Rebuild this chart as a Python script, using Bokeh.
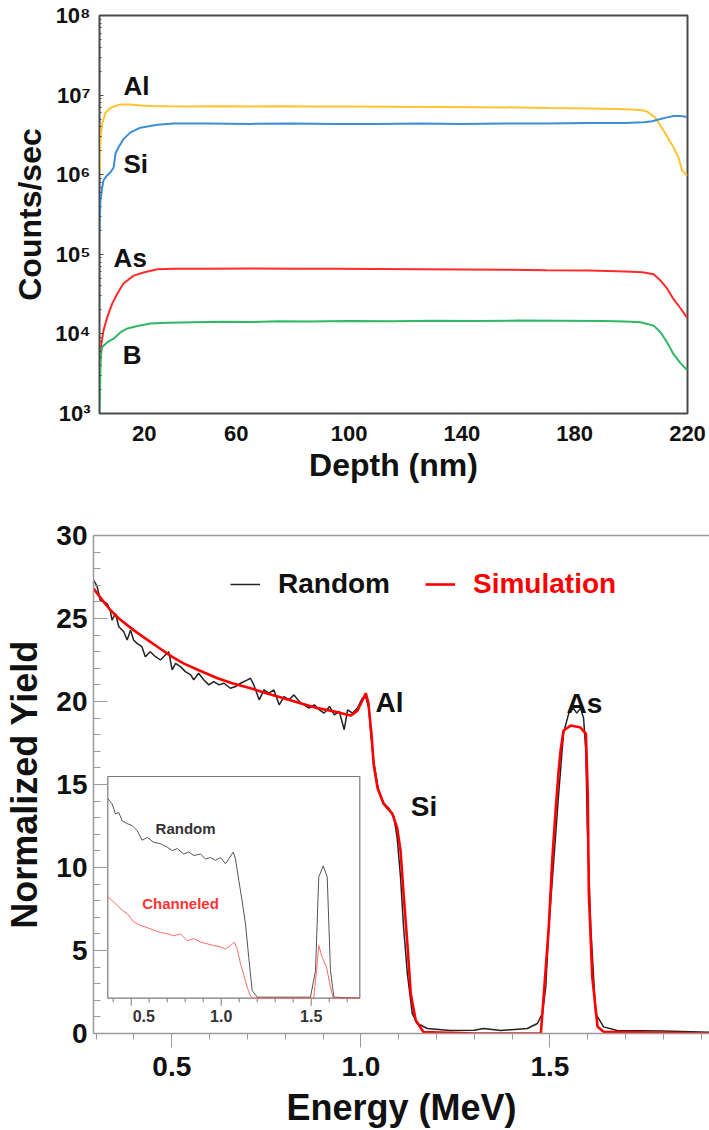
from bokeh.plotting import figure
from bokeh.models import (FixedTicker, LinearAxis, Range1d, Legend, LegendItem,
                          PrintfTickFormatter)
from bokeh.layouts import column
from bokeh.core.properties import value
from bokeh.embed import file_html
from bokeh.resources import INLINE

FONT = "Liberation Sans"

# ---------------- Top panel data (SIMS depth profile) ----------------
al_depth = [11.5, 11.85, 12.46, 13.6, 15.4, 17.0, 19.0, 22.5, 26.0, 30.0, 35.6, 45, 55, 65, 75, 85,
            100, 115, 130, 145, 160, 171, 185, 195, 200, 204, 205.7, 208.6, 211.5, 214.6, 216.8,
            218.1, 219.6, 220.0]
al_counts = [1.0e6, 2.7e6, 4.4e6, 6.0e6, 6.9e6, 7.3e6, 7.6e6, 7.6e6, 7.4e6, 7.3e6, 7.25e6, 7.2e6,
             7.25e6, 7.2e6, 7.25e6, 7.2e6, 7.2e6, 7.15e6, 7.1e6, 7.05e6, 7.0e6, 6.9e6, 6.8e6,
             6.7e6, 6.6e6, 6.45e6, 6.2e6, 5.2e6, 3.6e6, 2.35e6, 1.65e6, 1.12e6, 1.0e6, 1.0e6]

si_depth = [11.5, 11.85, 12.46, 12.9, 14.2, 15.4, 16.5, 17.2, 18.2, 20.0, 22.5, 26.0, 32.0, 37.7,
            50, 65, 80, 95, 110, 125, 140, 155, 170, 185, 198, 204.4, 207.5, 210.4, 212.8, 215.0,
            217.5, 220.0]
si_counts = [2.0e5, 4.8e5, 6.9e5, 8.5e5, 9.8e5, 1.07e6, 1.23e6, 1.86e6, 2.2e6, 2.8e6, 3.4e6,
             3.9e6, 4.25e6, 4.4e6, 4.4e6, 4.35e6, 4.4e6, 4.35e6, 4.35e6, 4.4e6, 4.35e6, 4.4e6,
             4.4e6, 4.45e6, 4.45e6, 4.55e6, 4.7e6, 5.0e6, 5.25e6, 5.45e6, 5.45e6, 5.3e6]

as_depth = [11.5, 11.85, 12.2, 12.9, 14.2, 16.0, 17.8, 20.0, 23.6, 27.1, 32.0, 37.7, 50, 65, 80,
            95, 110, 125, 140, 155, 170, 185, 198, 204, 208.0, 210.4, 212.8, 215.0, 217.5, 219.6,
            220.0]
as_counts = [2.4e3, 4.7e3, 7.6e3, 1.1e4, 1.6e4, 2.4e4, 3.2e4, 4.3e4, 5.4e4, 5.9e4, 6.5e4, 6.6e4,
             6.6e4, 6.65e4, 6.6e4, 6.6e4, 6.55e4, 6.5e4, 6.45e4, 6.4e4, 6.3e4, 6.25e4, 6.1e4,
             5.95e4, 5.6e4, 4.7e4, 3.7e4, 2.75e4, 2.1e4, 1.65e4, 1.6e4]

b_depth = [11.5, 11.75, 11.85, 12.4, 14.2, 16.5, 19.0, 21.4, 25.0, 29.6, 35.6, 45, 55, 65, 75,
           85, 100, 115, 130, 145, 160, 175, 190, 198, 203.3, 208.0, 210.4, 212.8, 215.0, 217.5,
           219.6, 220.0]
b_counts = [1.0e3, 2.4e3, 4.7e3, 6.8e3, 7.8e3, 8.7e3, 1.05e4, 1.17e4, 1.26e4, 1.35e4, 1.38e4,
            1.4e4, 1.42e4, 1.41e4, 1.44e4, 1.43e4, 1.45e4, 1.44e4, 1.46e4, 1.45e4, 1.47e4, 1.46e4,
            1.45e4, 1.43e4, 1.4e4, 1.27e4, 1.05e4, 7.8e3, 5.6e3, 4.3e3, 3.6e3, 3.5e3]

top_labels = ["Al", "Si", "As", "B"]
top_label_depth = [20.0, 20.0, 16.5, 19.7]
top_label_counts = [1.32e7, 1.38e6, 8.9e4, 5.5e3]

depth_ticks = [27.4, 60, 100, 140, 180, 220]
depth_tick_labels = ["20", "60", "100", "140", "180", "220"]
count_ticks = [1e3, 1e4, 1e5, 1e6, 1e7, 1e8]
count_tick_labels = ["10³", "10⁴", "10⁵", "10⁶", "10⁷", "10⁸"]

# ---------------- Bottom panel data (RBS) ----------------
rand_E = [0.293, 0.302, 0.311, 0.320, 0.329, 0.337, 0.342, 0.351, 0.360, 0.373, 0.382, 0.391,
          0.399, 0.408, 0.421, 0.430, 0.443, 0.457, 0.470, 0.483, 0.492, 0.501, 0.510, 0.523,
          0.536, 0.550, 0.558, 0.571, 0.585, 0.598, 0.611, 0.625, 0.638, 0.655, 0.669, 0.682,
          0.700, 0.708, 0.717, 0.731, 0.744, 0.757, 0.770, 0.784, 0.797, 0.810, 0.823, 0.837,
          0.850, 0.863, 0.877, 0.890, 0.903, 0.917, 0.930, 0.943, 0.956, 0.965, 0.978, 0.991,
          1.004, 1.013, 1.021, 1.026, 1.034, 1.047, 1.060, 1.073, 1.087, 1.096, 1.105, 1.113,
          1.123, 1.136, 1.149, 1.176, 1.237, 1.300, 1.325, 1.370, 1.440, 1.467, 1.480, 1.489,
          1.497, 1.510, 1.523, 1.536, 1.550, 1.562, 1.571, 1.581, 1.589, 1.595, 1.599, 1.608,
          1.621, 1.642, 1.678, 1.800, 1.922]
rand_Y = [27.3, 26.98, 26.1, 26.0, 25.9, 25.5, 24.9, 25.3, 24.5, 24.2, 23.7, 24.3,
          23.7, 23.5, 23.3, 22.7, 23.0, 22.7, 22.5, 22.8, 23.0, 21.9, 22.3, 22.1,
          21.8, 21.6, 21.3, 21.7, 21.3, 21.0, 21.2, 21.0, 21.1, 20.8, 20.9, 21.1,
          21.3, 21.4, 21.0, 20.1, 20.7, 20.5, 20.7, 19.8, 20.3, 20.1, 20.4, 20.0,
          19.8, 19.6, 19.8, 19.5, 19.3, 19.7, 19.2, 19.4, 18.3, 19.5, 19.3, 19.6,
          20.2, 20.25, 19.6, 18.1, 16.4, 14.6, 13.9, 13.6, 13.1, 11.8, 9.4, 6.4,
          3.6, 1.2, 0.6, 0.3, 0.18, 0.2, 0.3, 0.18, 0.3, 0.6, 1.2, 2.8,
          6.4, 10.4, 14.4, 18.1, 19.3, 19.6, 19.3, 19.6, 19.0, 17.0, 12.4, 6.4,
          1.2, 0.4, 0.18, 0.15, 0.08]

sim_E = [0.293, 0.320, 0.338, 0.360, 0.399, 0.430, 0.462, 0.500, 0.531, 0.570, 0.621, 0.660,
         0.708, 0.750, 0.796, 0.840, 0.886, 0.930, 0.973, 0.991, 1.004, 1.013, 1.020, 1.028,
         1.034, 1.044, 1.060, 1.083, 1.096, 1.105, 1.113, 1.123, 1.132, 1.145, 1.166, 1.300,
         1.476, 1.484, 1.497, 1.506, 1.515, 1.523, 1.528, 1.536, 1.555, 1.581, 1.595, 1.598,
         1.600, 1.603, 1.612, 1.626, 1.642, 1.922]
sim_Y = [26.8, 26.0, 25.5, 25.0, 24.3, 23.8, 23.3, 22.7, 22.3, 21.9, 21.4, 21.1,
         20.8, 20.5, 20.2, 19.9, 19.6, 19.4, 19.15, 19.45, 20.06, 20.5, 19.9, 18.07,
         16.2, 14.8, 13.85, 13.25, 12.4, 11.0, 8.4, 5.4, 2.4, 0.8, 0.08, 0.0,
         0.0, 2.4, 6.4, 10.4, 13.4, 15.8, 17.0, 18.25, 18.55, 18.43, 18.07, 16.0,
         14.4, 8.4, 3.4, 0.4, 0.1, 0.0]

rbs_labels = ["Al", "Si", "As"]
rbs_label_E = [1.039, 1.132, 1.544]
rbs_label_Y = [19.96, 13.7, 19.9]

energy_ticks = [0.5, 1.0, 1.5]
energy_minor = [0.3, 0.4, 0.6, 0.7, 0.8, 0.9, 1.1, 1.2, 1.3, 1.4, 1.6, 1.7, 1.8, 1.9]
yield_ticks = [0, 5, 10, 15, 20, 25, 30]
yield_minor = list(range(0, 31))

# Inset data (random vs channeled spectra)
inset_rand_E = [0.370, 0.394, 0.413, 0.431, 0.450, 0.478, 0.506, 0.533, 0.561, 0.589, 0.626,
                0.663, 0.700, 0.728, 0.756, 0.792, 0.820, 0.848, 0.885, 0.913, 0.941, 0.968,
                0.996, 1.024, 1.042, 1.067, 1.079, 1.098, 1.117, 1.135, 1.153, 1.172, 1.200,
                1.496, 1.524, 1.542, 1.567, 1.589, 1.607, 1.626, 1.770]
inset_rand_Y = [28.8, 28.05, 26.6, 26.8, 25.6, 25.2, 24.9, 24.2, 22.8, 23.2, 22.5,
                22.3, 21.8, 21.3, 21.6, 20.8, 21.1, 20.6, 20.8, 20.1, 20.3, 19.9,
                20.3, 19.4, 20.1, 21.1, 20.1, 17.0, 13.9, 10.7, 5.9, 1.1, 0.15,
                0.15, 4.0, 17.5, 19.1, 17.5, 4.0, 0.15, 0.0]
inset_chan_E = [0.370, 0.394, 0.422, 0.450, 0.478, 0.514, 0.552, 0.589, 0.626, 0.663, 0.700,
                0.737, 0.774, 0.811, 0.848, 0.885, 0.922, 0.959, 0.996, 1.024, 1.052, 1.074,
                1.089, 1.107, 1.126, 1.144, 1.163, 1.180, 1.514, 1.530, 1.542, 1.561, 1.585,
                1.607, 1.622, 1.770]
inset_chan_Y = [14.6, 14.1, 13.4, 12.7, 12.2, 11.0, 10.5, 10.2, 9.8, 9.5, 9.3,
                9.0, 9.3, 8.3, 8.6, 8.1, 7.85, 7.6, 7.4, 7.1, 7.6, 8.1,
                7.1, 5.0, 3.3, 1.6, 0.25, 0.0, 0.0, 4.0, 7.6, 5.9, 4.5,
                1.6, 0.0, 0.0]
inset_minor_ticks = [0.4, 0.5, 0.6, 0.7, 0.8, 0.9, 1.0, 1.1, 1.2, 1.3, 1.4, 1.5, 1.6, 1.7]
inset_tick_labels = ["0.5", "1.0", "1.5"]
inset_tick_label_E = [0.57, 1.0, 1.5]
inset_text = ["Random", "Channeled"]
inset_text_E = [0.802, 0.774]
inset_text_Y = [24.5, 13.7]

# ---------------- layout constants ----------------
W = 709
TOP_H = 495
BOT_H = 635


def style_text(axis, tick_size, label_size):
    axis.major_label_text_font = FONT
    axis.major_label_text_font_style = "bold"
    axis.major_label_text_font_size = tick_size
    axis.major_label_text_color = "#111111"
    axis.axis_label_text_font = FONT
    axis.axis_label_text_font_style = "bold"
    axis.axis_label_text_font_size = label_size
    axis.axis_label_text_color = "#111111"


# ================= Top figure =================
p1 = figure(width=W, height=TOP_H, y_axis_type="log",
            x_range=Range1d(11.5, 220.0), y_range=Range1d(1e3, 1e8),
            output_backend="svg", toolbar_location=None,
            min_border_left=99, min_border_right=22, min_border_top=15, min_border_bottom=82)
p1.xgrid.grid_line_color = None
p1.ygrid.grid_line_color = None
p1.outline_line_color = "#4a4a4a"
p1.outline_line_width = 2
p1.outline_line_alpha = 1.0

series = [(al_depth, al_counts, "#FFC42E"), (si_depth, si_counts, "#3C8FD6"),
          (as_depth, as_counts, "#FF2B2B"), (b_depth, b_counts, "#2FB866")]
for xs, ys, c in series:
    p1.line(xs, ys, line_color=c, line_width=2)

p1.text(x=top_label_depth, y=top_label_counts, text=top_labels,
        text_font=value(FONT), text_font_style="bold", text_font_size="26px",
        text_color="#111111", text_baseline="middle", text_align="left")

xa = p1.below[0]
xa.ticker = FixedTicker(ticks=depth_ticks)
xa.major_label_overrides = {t: l for t, l in zip(depth_ticks, depth_tick_labels)}
xa.major_tick_out = 0
xa.major_tick_in = 0
xa.minor_tick_out = 0
xa.minor_tick_in = 0
xa.axis_line_color = None
xa.major_label_standoff = 12
xa.axis_label = "Depth (nm)"
xa.axis_label_standoff = 3
style_text(xa, "22px", "32px")

ya = p1.left[0]
ya.ticker = FixedTicker(ticks=count_ticks,
                        minor_ticks=[m * 10 ** e for e in range(3, 8) for m in range(2, 10)])
ya.major_label_overrides = {t: l for t, l in zip(count_ticks, count_tick_labels)}
ya.major_tick_out = 0
ya.major_tick_in = 4
ya.minor_tick_out = 0
ya.minor_tick_in = 2
ya.axis_line_color = "#4a4a4a"
ya.major_tick_line_color = "#4a4a4a"
ya.minor_tick_line_color = "#4a4a4a"
ya.major_label_standoff = 9
ya.axis_label = "Counts/sec"
ya.axis_label_standoff = 4
style_text(ya, "22px", "32px")

# ================= Bottom figure =================
FRAME_L, FRAME_R, FRAME_T, FRAME_B = 93, 0, 40, 97
frame_w = W - FRAME_L - FRAME_R
frame_h = BOT_H - FRAME_T - FRAME_B

p2 = figure(width=W, height=BOT_H, x_range=Range1d(0.293, 1.922), y_range=Range1d(0, 30),
            output_backend="svg", toolbar_location=None,
            min_border_left=FRAME_L, min_border_right=FRAME_R,
            min_border_top=FRAME_T, min_border_bottom=FRAME_B)
p2.xgrid.grid_line_color = None
p2.ygrid.grid_line_color = None
p2.outline_line_color = None

# the two panels keep their own frame edges (no cross-plot alignment)
for p in (p1, p2):
    try:
        p.frame_align = False
    except Exception:
        pass

bx = p2.below[0]
by = p2.left[0]

# inset placement (pixels inside the main frame) and its own data ranges
IN_L, IN_R, IN_B, IN_T = 14.3, 266.3, 35.3, 257.0
IN_E0, IN_E1, IN_Y0, IN_Y1 = 0.37, 1.77, 0.0, 32.0
sx = (IN_E1 - IN_E0) / (IN_R - IN_L)
sy = (IN_Y1 - IN_Y0) / (IN_T - IN_B)
p2.extra_x_ranges = {"inset": Range1d(IN_E0 - IN_L * sx, IN_E0 + (frame_w - IN_L) * sx)}
p2.extra_y_ranges = {"inset": Range1d(IN_Y0 - IN_B * sy, IN_Y0 + (frame_h - IN_B) * sy)}
kw = dict(x_range_name="inset", y_range_name="inset")

p2.quad(left=[IN_E0], right=[IN_E1], bottom=[IN_Y0], top=[IN_Y1], fill_color="white",
        line_color="#7a7a7a", line_width=1.2, **kw)
p2.line(inset_rand_E, inset_rand_Y, line_color="#555555", line_width=1, **kw)
p2.line(inset_chan_E, inset_chan_Y, line_color="#FF6B6B", line_width=1, **kw)
tick_len = [1.1 if abs(t - round(t * 2) / 2) < 1e-9 else 0.6 for t in inset_minor_ticks]
p2.segment(x0=inset_minor_ticks, x1=inset_minor_ticks, y0=[IN_Y0] * len(inset_minor_ticks),
           y1=[IN_Y0 - L for L in tick_len], line_color="#7a7a7a", line_width=1, **kw)
p2.text(x=inset_tick_label_E, y=[IN_Y0 - 2.5] * 3, text=inset_tick_labels,
        text_font=value(FONT), text_font_style="bold", text_font_size="16px",
        text_color="#333333", text_align="center", text_baseline="middle", **kw)
p2.text(x=inset_text_E, y=inset_text_Y, text=inset_text, text_font=value(FONT),
        text_font_style="bold", text_font_size="15px", text_color=["#333333", "#FF3333"],
        text_align="center", text_baseline="middle", **kw)

r_rand = p2.line(rand_E, rand_Y, line_color="#222222", line_width=1.5)
r_sim = p2.line(sim_E, sim_Y, line_color="#FF0000", line_width=2.6)

p2.text(x=rbs_label_E, y=rbs_label_Y, text=rbs_labels, text_font=value(FONT),
        text_font_style="bold", text_font_size="28px", text_color="#111111",
        text_baseline="middle", text_align="left")

for item, col, loc in [(LegendItem(label="Random", renderers=[r_rand]), "#111111", (137, 433)),
                       (LegendItem(label="Simulation", renderers=[r_sim]), "#FF0000", (332, 433))]:
    leg = Legend(items=[item], location=loc, orientation="horizontal",
                 label_text_font=FONT, label_text_font_style="bold", label_text_font_size="28px",
                 label_text_color=col, glyph_width=30, glyph_height=20, label_standoff=18,
                 padding=0, margin=0, border_line_alpha=0, background_fill_alpha=0)
    p2.add_layout(leg)

bx.ticker = FixedTicker(ticks=energy_ticks, minor_ticks=energy_minor)
bx.formatter = PrintfTickFormatter(format="%.1f")
bx.axis_line_color = "#9a9a9a"
bx.axis_line_width = 1.5
bx.major_tick_line_color = "#9a9a9a"
bx.minor_tick_line_color = "#9a9a9a"
bx.major_tick_in = 0
bx.major_tick_out = 14
bx.minor_tick_in = 0
bx.minor_tick_out = 6
bx.major_label_standoff = 9
bx.axis_label = "Energy (MeV)"
bx.axis_label_standoff = 8
style_text(bx, "28px", "36px")

by.ticker = FixedTicker(ticks=yield_ticks, minor_ticks=yield_minor)
by.axis_line_color = "#9a9a9a"
by.axis_line_width = 1.5
by.major_tick_line_color = "#9a9a9a"
by.minor_tick_line_color = "#9a9a9a"
by.major_tick_in = 14
by.major_tick_out = 0
by.minor_tick_in = 7
by.minor_tick_out = 0
by.major_label_standoff = 6
by.axis_label = "Normalized Yield"
by.axis_label_standoff = 8
style_text(by, "28px", "36px")

top_axis = LinearAxis(ticker=FixedTicker(ticks=[]), axis_line_color="#999999",
                      axis_line_width=1.5, major_tick_in=0, major_tick_out=0,
                      minor_tick_in=0, minor_tick_out=0, major_label_text_font_size="1px",
                      major_label_standoff=0)
p2.add_layout(top_axis, "above")

layout = column(p1, p2, spacing=0)
open("out.html", "w").write(file_html(layout, INLINE))
